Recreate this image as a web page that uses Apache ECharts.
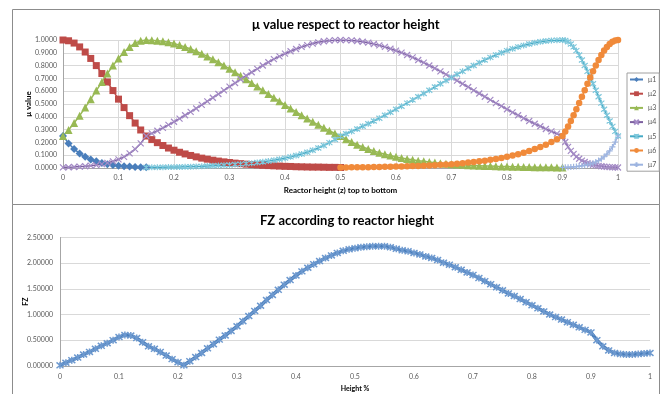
<!DOCTYPE html>
<html>
<head>
<meta charset="utf-8">
<script src="https://cdn.jsdelivr.net/npm/echarts@6/dist/echarts.min.js"></script>
<style>
  html, body { margin: 0; padding: 0; background: #fff; }
  #chart { width: 668px; height: 394px; }
</style>
</head>
<body>
<div id="chart"></div>
<script>
// reactor height grid for the μ chart (finer step after 0.9)
const heightTop = [
  0, 0.01, 0.02, 0.03, 0.04, 0.05, 0.06, 0.07, 0.08, 0.09,
  0.1, 0.11, 0.12, 0.13, 0.14, 0.15, 0.16, 0.17, 0.18, 0.19,
  0.2, 0.21, 0.22, 0.23, 0.24, 0.25, 0.26, 0.27, 0.28, 0.29,
  0.3, 0.31, 0.32, 0.33, 0.34, 0.35, 0.36, 0.37, 0.38, 0.39,
  0.4, 0.41, 0.42, 0.43, 0.44, 0.45, 0.46, 0.47, 0.48, 0.49,
  0.5, 0.51, 0.52, 0.53, 0.54, 0.55, 0.56, 0.57, 0.58, 0.59,
  0.6, 0.61, 0.62, 0.63, 0.64, 0.65, 0.66, 0.67, 0.68, 0.69,
  0.7, 0.71, 0.72, 0.73, 0.74, 0.75, 0.76, 0.77, 0.78, 0.79,
  0.8, 0.81, 0.82, 0.83, 0.84, 0.85, 0.86, 0.87, 0.88, 0.89,
  0.9, 0.905, 0.91, 0.915, 0.92, 0.925, 0.93, 0.935, 0.94, 0.945,
  0.95, 0.955, 0.96, 0.965, 0.97, 0.975, 0.98, 0.985, 0.99, 0.995, 1
]

// μ series, each starting at heightTop[start]
const mu1Start = 0
const mu1 = [0.25, 0.192, 0.148, 0.114, 0.087, 0.067, 0.052, 0.040, 0.030, 0.023, 0.018, 0.014, 0.011, 0.008, 0.006, 0.005]

const mu2Start = 0
const mu2 = [
  1, 0.994, 0.976, 0.946, 0.906, 0.856, 0.800, 0.738, 0.672, 0.605, 0.538, 0.472, 0.409, 0.351, 0.297, 0.25,
  0.222, 0.198, 0.176, 0.156, 0.139, 0.123, 0.110, 0.098, 0.087, 0.077, 0.069, 0.061, 0.054, 0.048, 0.043,
  0.038, 0.034, 0.030, 0.027, 0.024, 0.021, 0.019, 0.017, 0.015, 0.013, 0.012, 0.010, 0.009, 0.008, 0.007,
  0.007, 0.006, 0.005, 0.005, 0.004
]

const mu3Start = 0
const mu3 = [
  0.25, 0.297, 0.351, 0.409, 0.472, 0.538, 0.605, 0.672, 0.738, 0.800, 0.856, 0.906, 0.946, 0.976, 0.994, 1,
  0.999, 0.995, 0.990, 0.982, 0.972, 0.960, 0.946, 0.930, 0.912, 0.893, 0.872, 0.850, 0.826, 0.801, 0.775,
  0.748, 0.721, 0.693, 0.664, 0.636, 0.607, 0.578, 0.549, 0.521, 0.493, 0.465, 0.438, 0.412, 0.386, 0.361,
  0.337, 0.314, 0.291, 0.270, 0.250,
  0.225, 0.203, 0.182, 0.164, 0.148, 0.133, 0.120, 0.108, 0.097, 0.087, 0.079, 0.071, 0.064, 0.057, 0.052,
  0.046, 0.042, 0.038, 0.034, 0.030, 0.027, 0.025, 0.022, 0.020, 0.018, 0.016, 0.015, 0.013, 0.012, 0.011,
  0.010, 0.009, 0.008, 0.007, 0.006, 0.006, 0.005, 0.005, 0.004, 0.004
]

const mu4Start = 0
const mu4 = [
  0.005, 0.006, 0.008, 0.011, 0.014, 0.018, 0.023, 0.030, 0.040, 0.052, 0.067, 0.087, 0.114, 0.148, 0.192, 0.25,
  0.270, 0.291, 0.314, 0.337, 0.361, 0.386, 0.412, 0.438, 0.465, 0.493, 0.521, 0.549, 0.578, 0.607, 0.636,
  0.664, 0.693, 0.721, 0.748, 0.775, 0.801, 0.826, 0.850, 0.872, 0.893, 0.912, 0.930, 0.946, 0.960, 0.972,
  0.982, 0.990, 0.995, 0.999, 1,
  0.999, 0.997, 0.992, 0.986, 0.979, 0.969, 0.958, 0.946, 0.932, 0.917, 0.901, 0.883, 0.864, 0.844, 0.823,
  0.801, 0.779, 0.755, 0.732, 0.707, 0.683, 0.658, 0.633, 0.607, 0.582, 0.557, 0.532, 0.507, 0.483, 0.459,
  0.435, 0.412, 0.389, 0.367, 0.346, 0.326, 0.305, 0.286, 0.268, 0.25,
  0.203, 0.165, 0.134, 0.109, 0.088, 0.072, 0.058, 0.047, 0.038, 0.031, 0.025, 0.021, 0.017, 0.014, 0.011,
  0.009, 0.007, 0.006, 0.005, 0.004
]

const mu5Start = 15
const mu5 = [
  0.004, 0.005, 0.005, 0.006, 0.007, 0.007, 0.008, 0.009, 0.010, 0.012, 0.013, 0.015, 0.017, 0.019, 0.021,
  0.024, 0.027, 0.030, 0.034, 0.038, 0.043, 0.048, 0.054, 0.061, 0.069, 0.077, 0.087, 0.098, 0.110, 0.123,
  0.139, 0.156, 0.176, 0.198, 0.222, 0.25,
  0.268, 0.286, 0.305, 0.326, 0.346, 0.367, 0.389, 0.412, 0.435, 0.459, 0.483, 0.507, 0.532, 0.557, 0.582,
  0.607, 0.633, 0.658, 0.683, 0.707, 0.732, 0.755, 0.779, 0.801, 0.823, 0.844, 0.864, 0.883, 0.901, 0.917,
  0.932, 0.946, 0.958, 0.969, 0.979, 0.986, 0.992, 0.997, 0.999, 1,
  0.997, 0.986, 0.969, 0.946, 0.917, 0.883, 0.844, 0.801, 0.755, 0.707, 0.658, 0.607, 0.557, 0.507, 0.459,
  0.412, 0.367, 0.325, 0.286, 0.25
]

const mu6Start = 50
const mu6 = [
  0.004, 0.004, 0.005, 0.005, 0.006, 0.006, 0.007, 0.008, 0.009, 0.010, 0.011, 0.012, 0.013, 0.015, 0.016,
  0.018, 0.020, 0.022, 0.025, 0.027, 0.030, 0.034, 0.038, 0.042, 0.046, 0.052, 0.057, 0.064, 0.071, 0.079,
  0.087, 0.097, 0.108, 0.120, 0.133, 0.148, 0.164, 0.182, 0.203, 0.225, 0.25,
  0.286, 0.325, 0.367, 0.412, 0.459, 0.507, 0.557, 0.607, 0.658, 0.707, 0.755, 0.801, 0.844, 0.883, 0.917,
  0.946, 0.969, 0.986, 0.997, 1
]

const mu7Start = 90
const mu7 = [
  0.004, 0.005, 0.006, 0.007, 0.009, 0.011, 0.014, 0.017, 0.021, 0.025, 0.031, 0.038, 0.047, 0.058, 0.072,
  0.088, 0.109, 0.134, 0.165, 0.203, 0.25
]

// FZ chart
const heightFz = [
  0, 0.01, 0.02, 0.03, 0.04, 0.05, 0.06, 0.07, 0.08, 0.09,
  0.1, 0.11, 0.12, 0.13, 0.14, 0.15, 0.16, 0.17, 0.18, 0.19,
  0.2, 0.21, 0.22, 0.23, 0.24, 0.25, 0.26, 0.27, 0.28, 0.29,
  0.3, 0.31, 0.32, 0.33, 0.34, 0.35, 0.36, 0.37, 0.38, 0.39,
  0.4, 0.41, 0.42, 0.43, 0.44, 0.45, 0.46, 0.47, 0.48, 0.49,
  0.5, 0.51, 0.52, 0.53, 0.54, 0.55, 0.56, 0.57, 0.58, 0.59,
  0.6, 0.61, 0.62, 0.63, 0.64, 0.65, 0.66, 0.67, 0.68, 0.69,
  0.7, 0.71, 0.72, 0.73, 0.74, 0.75, 0.76, 0.77, 0.78, 0.79,
  0.8, 0.81, 0.82, 0.83, 0.84, 0.85, 0.86, 0.87, 0.88, 0.89,
  0.9, 0.91, 0.92, 0.93, 0.94, 0.95, 0.96, 0.97, 0.98, 0.99, 1
]
const fz = [
  0.01, 0.06, 0.11, 0.16, 0.22, 0.27, 0.33, 0.39, 0.44, 0.50,
  0.56, 0.60, 0.59, 0.54, 0.46, 0.38, 0.33, 0.27, 0.20, 0.13,
  0.07, 0.01, 0.09, 0.17, 0.25, 0.34, 0.42, 0.51, 0.59, 0.68,
  0.77, 0.87, 0.97, 1.07, 1.17, 1.28, 1.38, 1.48, 1.58, 1.67,
  1.76, 1.84, 1.91, 1.98, 2.04, 2.10, 2.15, 2.20, 2.24, 2.27,
  2.29, 2.31, 2.32, 2.33, 2.33, 2.33, 2.31, 2.28, 2.25, 2.23,
  2.20, 2.17, 2.13, 2.10, 2.06, 2.01, 1.97, 1.92, 1.87, 1.82,
  1.77, 1.71, 1.65, 1.59, 1.53, 1.47, 1.41, 1.36, 1.30, 1.24,
  1.18, 1.12, 1.06, 1.00, 0.95, 0.90, 0.85, 0.80, 0.75, 0.70,
  0.65, 0.50, 0.38, 0.30, 0.25, 0.23, 0.22, 0.22, 0.23, 0.24, 0.25
]

const pairs = (xs, start, ys) => ys.map((y, i) => [xs[start + i], y])

const X_MARK = 'path://M0,0L10,10M10,0L0,10'
const STAR_MARK = 'path://M0,0L10,10M10,0L0,10M5,-1L5,11'
const PLUS_MARK = 'path://M5,0L5,10M0,5L10,5'

const font = 'Lato, "Liberation Sans", sans-serif'
const labelColor = '#595959'
const gridColor = '#d9d9d9'
const axisColor = '#a6a6a6'

const muSeries = (name, data, color, symbol, size, border) => ({
  name,
  type: 'line',
  xAxisIndex: 0,
  yAxisIndex: 0,
  data,
  symbol,
  symbolSize: size,
  showAllSymbol: true,
  lineStyle: { color, width: 1.5 },
  itemStyle: border ? { color, borderColor: border, borderWidth: 1.2 } : { color },
})

const myChart = echarts.init(document.getElementById('chart'), null, { renderer: 'canvas' })

const option = {
  animation: false,
  backgroundColor: '#fff',
  graphic: [
    { type: 'rect', shape: { x: 12.5, y: 9.5, width: 647, height: 195 }, style: { fill: 'none', stroke: '#8c8c8c', lineWidth: 1 } },
    { type: 'rect', shape: { x: 12.5, y: 204.5, width: 647, height: 200 }, style: { fill: 'none', stroke: '#8c8c8c', lineWidth: 1 } },
  ],
  title: [
    {
      text: 'μ value respect to reactor height',
      left: 252, top: 18, padding: 0,
      textStyle: { fontFamily: font, fontWeight: 'bold', fontSize: 13, color: '#000' },
    },
    {
      text: 'FZ according to reactor hieght',
      left: 260, top: 214, padding: 0,
      textStyle: { fontFamily: font, fontWeight: 'bold', fontSize: 13, color: '#000' },
    },
  ],
  legend: {
    orient: 'vertical',
    left: 627, top: 73,
    padding: [3, 3, 3, 2],
    itemWidth: 13, itemHeight: 6, itemGap: 7.2,
    borderColor: '#a0a0a0', borderWidth: 1,
    textStyle: { fontFamily: font, fontSize: 7, color: labelColor, lineHeight: 6 },
    data: ['μ1', 'μ2', 'μ3', 'μ4', 'μ5', 'μ6', 'μ7'],
  },
  grid: [
    { left: 63, top: 40, width: 555, height: 128 },
    { left: 60, top: 237.5, width: 590, height: 128.3 },
  ],
  xAxis: [
    {
      gridIndex: 0, type: 'value', min: 0, max: 1, interval: 0.1,
      axisLine: { lineStyle: { color: axisColor } },
      axisTick: { show: false },
      splitLine: { show: true, lineStyle: { color: gridColor } },
      axisLabel: { fontFamily: font, fontSize: 7, color: labelColor, margin: 6 },
      name: 'Reactor height (z) top to bottom', nameLocation: 'middle', nameGap: 18,
      nameTextStyle: { fontFamily: font, fontWeight: 'bold', fontSize: 8, color: '#000' },
    },
    {
      gridIndex: 1, type: 'value', min: 0, max: 1, interval: 0.1,
      axisLine: { lineStyle: { color: axisColor } },
      axisTick: { show: false },
      splitLine: { show: false },
      axisLabel: { fontFamily: font, fontSize: 7, color: labelColor, margin: 7 },
      name: 'Height %', nameLocation: 'middle', nameGap: 19,
      nameTextStyle: { fontFamily: font, fontWeight: 'bold', fontSize: 7, color: '#000' },
    },
  ],
  yAxis: [
    {
      gridIndex: 0, type: 'value', min: 0, max: 1, interval: 0.1,
      axisLine: { show: true, lineStyle: { color: axisColor } },
      axisTick: { show: false },
      splitLine: { show: true, lineStyle: { color: gridColor } },
      axisLabel: { fontFamily: font, fontSize: 7, color: labelColor, margin: 6, formatter: (v) => v.toFixed(4) },
      name: 'μ value', nameLocation: 'middle', nameGap: 31, nameRotate: 90, nameMoveOverlap: false,
      nameTextStyle: { fontFamily: font, fontWeight: 'bold', fontSize: 8, color: '#000' },
    },
    {
      gridIndex: 1, type: 'value', min: 0, max: 2.5, interval: 0.5,
      axisLine: { show: true, lineStyle: { color: axisColor } },
      axisTick: { show: false },
      splitLine: { show: true, lineStyle: { color: gridColor } },
      axisLabel: { fontFamily: font, fontSize: 7, color: labelColor, margin: 7, formatter: (v) => v.toFixed(5) },
      name: 'FZ', nameLocation: 'middle', nameGap: 31, nameRotate: 90, nameMoveOverlap: false,
      nameTextStyle: { fontFamily: font, fontWeight: 'bold', fontSize: 7, color: '#000' },
    },
  ],
  series: [
    muSeries('μ1', pairs(heightTop, mu1Start, mu1), '#4a7ebb', 'diamond', 8),
    muSeries('μ2', pairs(heightTop, mu2Start, mu2), '#be4b48', 'rect', 7),
    muSeries('μ3', pairs(heightTop, mu3Start, mu3), '#98b954', 'triangle', 8),
    muSeries('μ4', pairs(heightTop, mu4Start, mu4), '#7d60a0', X_MARK, 6, '#a48bc6'),
    muSeries('μ5', pairs(heightTop, mu5Start, mu5), '#46aac5', STAR_MARK, 6, '#7ec7db'),
    muSeries('μ6', pairs(heightTop, mu6Start, mu6), '#f08a3a', 'circle', 6.5),
    muSeries('μ7', pairs(heightTop, mu7Start, mu7), '#9db4e0', PLUS_MARK, 6, '#9db4e0'),
    {
      name: 'FZ',
      type: 'line',
      xAxisIndex: 1,
      yAxisIndex: 1,
      data: pairs(heightFz, 0, fz),
      symbol: STAR_MARK,
      symbolSize: 7,
      showAllSymbol: true,
      lineStyle: { color: '#4a7ebb', width: 3.5 },
      itemStyle: { color: '#4a7ebb', borderColor: '#6d99cf', borderWidth: 1.5 },
    },
  ],
}

myChart.setOption(option)
</script>
</body>
</html>
